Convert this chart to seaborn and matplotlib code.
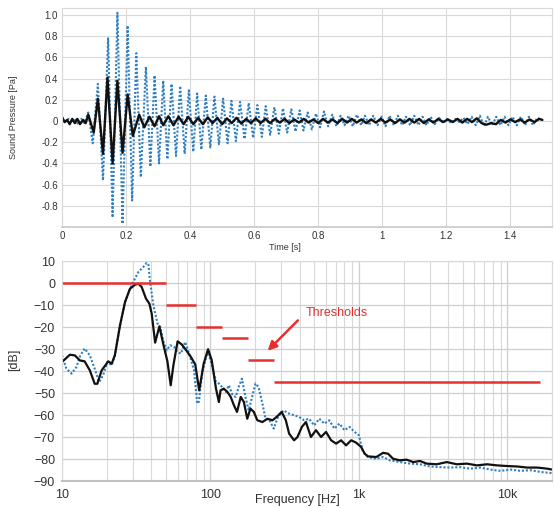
import numpy as np
import pandas as pd
import matplotlib
matplotlib.use("Agg")
import matplotlib.pyplot as plt
from matplotlib.ticker import MultipleLocator, LogLocator, NullFormatter, FixedLocator
import seaborn as sns

# ---- time signal: turning points of the two recordings ----
t_meas = [0.000, 0.010, 0.020, 0.030, 0.040, 0.050, 0.060, 0.070, 0.082,
          0.096, 0.112, 0.128, 0.144, 0.158, 0.173, 0.189, 0.205, 0.219, 0.232,
          0.246, 0.262, 0.276, 0.289, 0.303, 0.316, 0.329, 0.342, 0.356, 0.369,
          0.383, 0.396, 0.410, 0.422, 0.435, 0.449, 0.463, 0.476, 0.490, 0.503,
          0.517, 0.529, 0.543, 0.556, 0.570, 0.583, 0.597, 0.610, 0.624, 0.636,
          0.650, 0.663, 0.677, 0.690, 0.703, 0.716, 0.729, 0.742, 0.754, 0.767,
          0.780, 0.793, 0.806, 0.818, 0.831, 0.844, 0.857, 0.870, 0.882, 0.895,
          0.908, 0.921, 0.934, 0.946, 0.959, 0.972, 0.985, 0.998, 1.010, 1.023,
          1.036, 1.049, 1.062, 1.074, 1.087, 1.100, 1.113, 1.126, 1.138, 1.151,
          1.164, 1.177, 1.190, 1.202, 1.215, 1.228, 1.241, 1.254, 1.266, 1.279,
          1.292, 1.305, 1.318, 1.330, 1.343, 1.356, 1.369, 1.382, 1.394, 1.407,
          1.420, 1.433, 1.446, 1.458, 1.471, 1.484, 1.497]
p_meas = [0.02, -0.01, 0.02, -0.02, 0.02, -0.03, 0.02, -0.02, 0.08,
          -0.21, 0.35, -0.56, 0.78, -0.91, 1.02, -0.97, 0.90, -0.75, 0.64,
          -0.53, 0.51, -0.43, 0.43, -0.40, 0.38, -0.36, 0.35, -0.33, 0.33,
          -0.31, 0.29, -0.29, 0.26, -0.27, 0.24, -0.25, 0.23, -0.22, 0.21,
          -0.21, 0.19, -0.19, 0.18, -0.17, 0.17, -0.16, 0.15, -0.15, 0.14,
          -0.13, 0.13, -0.12, 0.12, -0.11, 0.11, -0.10, 0.10, -0.09, 0.08,
          -0.08, 0.07, -0.06, 0.09, -0.05, 0.06, -0.05, 0.05, -0.04, 0.05,
          -0.05, 0.06, -0.04, 0.05, -0.04, 0.05, -0.04, 0.04, -0.05, 0.05,
          -0.04, 0.05, -0.04, 0.04, -0.04, 0.05, -0.04, 0.04, -0.04, 0.04,
          -0.03, 0.03, -0.02, 0.02, -0.02, 0.02, -0.01, 0.03, -0.03, 0.04,
          -0.04, 0.05, -0.05, 0.04, -0.04, 0.04, -0.04, 0.04, -0.04, 0.04,
          -0.04, 0.04, -0.04, 0.04, -0.04, 0.03, 0.01]

t_ref = [0.000, 0.008, 0.016, 0.024, 0.032, 0.040, 0.048, 0.056, 0.066, 0.074,
         0.082, 0.099, 0.112, 0.128, 0.142, 0.158, 0.173, 0.189, 0.205, 0.221,
         0.241, 0.257, 0.273, 0.289, 0.303, 0.316, 0.332, 0.348, 0.364, 0.380,
         0.394, 0.410, 0.425, 0.440, 0.455, 0.470, 0.485, 0.500, 0.515, 0.530,
         0.545, 0.560, 0.575, 0.590, 0.605, 0.620, 0.635, 0.650, 0.665, 0.680,
         0.695, 0.710, 0.725, 0.740, 0.755, 0.770, 0.785, 0.800, 0.815, 0.830,
         0.845, 0.860, 0.875, 0.890, 0.905, 0.920, 0.935, 0.950, 0.965, 0.980,
         0.995, 1.010, 1.025, 1.040, 1.055, 1.070, 1.085, 1.100, 1.115, 1.130,
         1.145, 1.160, 1.175, 1.190, 1.205, 1.220, 1.235, 1.250, 1.265, 1.280,
         1.295, 1.310, 1.325, 1.340, 1.355, 1.370, 1.385, 1.400, 1.415, 1.430,
         1.445, 1.460, 1.475, 1.490, 1.500]
p_ref = [0.04, -0.01, 0.01, -0.03, 0.02, -0.02, 0.02, -0.03, 0.01, -0.02,
         0.06, -0.11, 0.21, -0.31, 0.41, -0.40, 0.38, -0.30, 0.25, -0.14,
         0.06, -0.06, 0.04, -0.05, 0.045, -0.04, 0.045, -0.04, 0.04, -0.03,
         0.04, -0.03, 0.03, -0.03, 0.035, -0.02, 0.03, -0.03, 0.025, -0.02,
         0.03, -0.025, 0.02, -0.02, 0.025, -0.02, 0.02, -0.02, 0.02, -0.015,
         0.02, -0.02, 0.015, -0.015, 0.02, -0.015, 0.015, -0.02, 0.02, -0.015,
         0.015, -0.02, 0.02, -0.015, 0.02, -0.015, 0.015, -0.02, 0.015, -0.015,
         0.02, -0.015, 0.015, -0.02, 0.015, -0.015, 0.02, -0.015, 0.02, -0.02,
         0.015, -0.015, 0.02, -0.01, 0.015, -0.01, 0.02, -0.015, 0.02, -0.01,
         0.025, -0.02, -0.035, -0.02, -0.03, 0.01, -0.015, 0.015, -0.01, 0.015,
         -0.015, 0.015, -0.01, 0.02, 0.01]

# ---- spectra ----
f_meas = [10, 10.7, 11.6, 12.5, 13.3, 14.2, 15.4, 16.6, 17.8, 18.9, 20.2, 21.6,
          22.7, 24.6, 26.6, 28.7, 30.6, 32.7, 35.3, 37.2, 38.2, 39.2, 41.3, 44,
          45.9, 48.3, 50.8, 53.5, 57, 60, 63.3, 67.6, 72.5, 77.5, 81.5, 83.5,
          88.5, 96, 103, 109, 114, 120, 127, 133, 141, 148, 155, 163, 172, 181,
          191, 201, 211, 224, 235, 250, 267, 282, 296, 311, 339, 366, 396, 428,
          462, 500, 541, 585, 632, 684, 740, 799, 865, 935, 1000, 1065, 1151,
          1311, 1455, 1614, 1888, 2210, 2580, 3015, 3525, 4120, 4815, 5630,
          6580, 7690, 8990, 10500, 12280, 14350, 16780, 20000]
db_meas = [-32.9, -38.9, -41.2, -38.2, -32.9, -29.8, -32.9, -38.9, -45, -42,
           -35.9, -37.4, -32.9, -19.2, -8.6, -2.6, 1.2, 5, 7.3, 9.2, 8.3, 0.5,
           -10.2, -18.5, -20, -26.8, -30.6, -28.3, -29.1, -31.4, -32.1, -26.8,
           -32.9, -39.7, -54.8, -54, -39.9, -30.9, -38.2, -45, -45.7, -47.3,
           -49.5, -46.5, -51, -51.8, -47.3, -43.5, -51.8, -57.9, -51.8, -45.7,
           -47.3, -54.8, -61.7, -62.4, -66.2, -61.7, -59.4, -57.9, -59.4, -60.1,
           -60.9, -62.4, -61.7, -64.7, -61.7, -63.9, -62.4, -66.2, -63.9, -66.9,
           -65.4, -67.7, -69.2, -76.8, -79.1, -79.9, -79.1, -80.6, -81.4, -82.1,
           -82.4, -83.4, -83.7, -83.9, -83.7, -84.4, -83.9, -84.8, -85.4, -84.8,
           -85.4, -85.1, -85.9, -86.4]

f_ref = [10, 11.3, 12.2, 13.2, 14.2, 15.4, 16.6, 17.3, 18.5, 20.5, 21.6, 22.7,
         24.6, 26.6, 28.7, 31.0, 32.7, 34.4, 36.8, 38.8, 40.2, 42.4, 45.3, 48.3,
         51.3, 54, 56.3, 60.1, 64.2, 68.7, 73.8, 79, 84, 90, 96.4, 102, 109,
         114, 117, 123, 130, 137, 144, 151, 160, 168, 177, 186, 196, 207, 224,
         242, 262, 282, 302, 322, 339, 366, 386, 413, 440, 475, 514, 556, 601,
         650, 702, 759, 820, 887, 955, 1035, 1095, 1151, 1311, 1455, 1573, 1701,
         1888, 2095, 2325, 2580, 2862, 3345, 3910, 4570, 5340, 6240, 7300, 8530,
         9970, 11650, 13630, 15930, 18620, 20000]
db_ref = [-35.9, -32.6, -32.9, -35.2, -35.6, -39.7, -45.8, -45.8, -39.7, -35.6,
          -36.7, -32.9, -19.2, -8.6, -2.6, -0.8, -0.3, -1.8, -7.1, -9.4, -13.9,
          -27.1, -19.7, -28.3, -35.6, -46.5, -37.4, -26.5, -28, -30.6, -33.6,
          -37, -48.8, -36.7, -30.1, -35.1, -48, -54.1, -48.8, -48, -49.5, -51.8,
          -55.6, -58.6, -51.8, -54.1, -61.7, -57.1, -58.6, -62.4, -63.2, -61.7,
          -62.4, -60.6, -58.6, -62.4, -68.5, -71.5, -70, -65.4, -63.2, -70,
          -66.9, -70, -67.7, -71.5, -73, -71.5, -73.8, -71.5, -72.5, -74.5,
          -77.6, -78.8, -79.1, -77.2, -77.6, -79.9, -80.6, -80.3, -81.4, -80.9,
          -82.1, -82.4, -81.4, -82.4, -82.1, -82.9, -82.4, -82.9, -83.2, -83.4,
          -83.9, -83.9, -84.4, -84.8]

# ---- threshold steps ----
thr_start = [10, 50, 80, 120, 180, 270]
thr_end = [50, 80, 120, 180, 270, 16500]
thr_level = [0, -10, -20, -25, -35, -45]

# ---- styling ----
sns.set_style("white")
plt.rcParams["font.family"] = ["Liberation Sans", "DejaVu Sans"]
BLUE = "#2f7fc1"
BLACK = "#111111"
RED = "#e5302f"
GRID = "#d9d9d9"
TXT = "#333333"

fig = plt.figure(figsize=(5.54, 5.08), dpi=100)
ax1 = fig.add_axes([62 / 554, 1 - 227 / 508, 490 / 554, 219 / 508])
ax2 = fig.add_axes([62 / 554, 1 - 481 / 508, 490 / 554, 220 / 508])

# time domain
sns.lineplot(x=t_meas, y=p_meas, ax=ax1, color=BLUE, lw=1.5,
             linestyle=(0, (1, 0.9)), sort=False, estimator=None)
sns.lineplot(x=t_ref, y=p_ref, ax=ax1, color=BLACK, lw=1.7,
             sort=False, estimator=None)
ax1.set_xlim(0, 1.53)
ax1.set_ylim(-1.0, 1.066)
ax1.set_xticks([0, 0.2, 0.4, 0.6, 0.8, 1.0, 1.2, 1.4])
ax1.set_xticklabels(["0", "0.2", "0.4", "0.6", "0.8", "1", "1.2", "1.4"])
ax1.set_yticks([-0.8, -0.6, -0.4, -0.2, 0, 0.2, 0.4, 0.6, 0.8, 1.0])
ax1.set_yticklabels(["-0.8", "-0.6", "-0.4", "-0.2", "0", "0.2", "0.4",
                     "0.6", "0.8", "1.0"])
ax1.xaxis.set_minor_locator(MultipleLocator(0.04))
ax1.yaxis.set_minor_locator(MultipleLocator(0.04))
ax1.grid(True, which="major", color=GRID, lw=0.8)
ax1.set_axisbelow(True)
ax1.tick_params(axis="both", which="major", labelsize=7, colors=TXT,
                length=0, pad=3)
ax1.tick_params(axis="both", which="minor", direction="in", length=3,
                color=GRID, width=0.8)
ax1.set_xlabel("Time [s]", fontsize=6.5, color=TXT)
ax1.xaxis.set_label_coords(0.455, -0.075)
ax1.set_ylabel("Sound Pressure [Pa]", fontsize=6.5, color=TXT)
ax1.yaxis.set_label_coords(-0.09, 0.5)
for s in ax1.spines.values():
    s.set_color(GRID)
    s.set_linewidth(0.8)
ax1.spines["bottom"].set_color("#c8c8c8")
ax1.spines["bottom"].set_linewidth(1.2)

# frequency domain
sns.lineplot(x=f_meas, y=db_meas, ax=ax2, color=BLUE, lw=1.5,
             linestyle=(0, (1, 0.9)), sort=False, estimator=None)
sns.lineplot(x=f_ref, y=db_ref, ax=ax2, color=BLACK, lw=1.6,
             sort=False, estimator=None)
ax2.hlines(thr_level, thr_start, thr_end, color=RED, lw=1.8)
ax2.set_xscale("log")
ax2.set_xlim(10, 20000)
ax2.set_ylim(-90, 10)
ax2.xaxis.set_major_locator(FixedLocator([10, 100, 1000, 10000]))
ax2.set_xticklabels(["10", "100", "1k", "10k"])
ax2.xaxis.set_minor_locator(LogLocator(base=10, subs=np.arange(2, 10)))
ax2.xaxis.set_minor_formatter(NullFormatter())
ax2.set_yticks(np.arange(-90, 11, 10))
ax2.yaxis.set_minor_locator(MultipleLocator(2))
ax2.grid(True, which="major", color="#cfcfcf", lw=0.9)
ax2.grid(True, which="minor", axis="x", color=GRID, lw=0.8)
ax2.set_axisbelow(True)
ax2.tick_params(axis="x", which="major", labelsize=9, colors=TXT,
                length=0, pad=6)
ax2.tick_params(axis="y", which="major", labelsize=9, colors=TXT,
                length=3, color="#bbbbbb", pad=2)
ax2.tick_params(axis="x", which="minor", length=0)
ax2.tick_params(axis="y", which="minor", direction="in", length=3,
                color=GRID, width=0.8)
ax2.set_xlabel("Frequency [Hz]", fontsize=9, color=TXT)
ax2.xaxis.set_label_coords(0.48, -0.06)
ax2.set_ylabel("[dB]", fontsize=9, color=TXT)
ax2.yaxis.set_label_coords(-0.085, 0.55)
for s in ax2.spines.values():
    s.set_color(GRID)
    s.set_linewidth(0.8)
ax2.spines["bottom"].set_color("#c0c0c0")
ax2.spines["bottom"].set_linewidth(1.5)

ax2.annotate("", xy=(243, -30.8), xytext=(388, -17),
             arrowprops=dict(arrowstyle="-|>", color=RED, lw=1.8,
                             mutation_scale=13, shrinkA=0, shrinkB=0))
ax2.text(440, -13.8, "Thresholds", color=RED, fontsize=9,
         ha="left", va="center")

fig.savefig("out.png", dpi=100)
